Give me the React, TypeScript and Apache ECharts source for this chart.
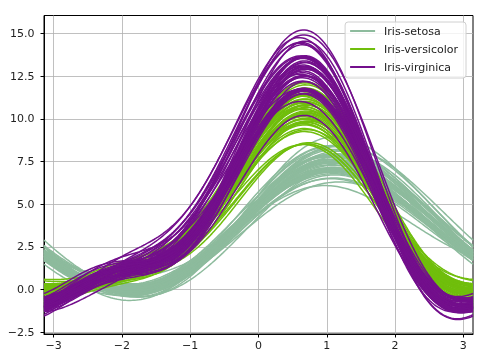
import React, { useEffect, useRef } from "react";
import * as echarts from "echarts";

// Iris data: sepal length, sepal width, petal length, petal width
const setosa: number[][] = [
  [5.1,3.5,1.4,0.2],[4.9,3.0,1.4,0.2],[4.7,3.2,1.3,0.2],[4.6,3.1,1.5,0.2],[5.0,3.6,1.4,0.2],
  [5.4,3.9,1.7,0.4],[4.6,3.4,1.4,0.3],[5.0,3.4,1.5,0.2],[4.4,2.9,1.4,0.2],[4.9,3.1,1.5,0.1],
  [5.4,3.7,1.5,0.2],[4.8,3.4,1.6,0.2],[4.8,3.0,1.4,0.1],[4.3,3.0,1.1,0.1],[5.8,4.0,1.2,0.2],
  [5.7,4.4,1.5,0.4],[5.4,3.9,1.3,0.4],[5.1,3.5,1.4,0.3],[5.7,3.8,1.7,0.3],[5.1,3.8,1.5,0.3],
  [5.4,3.4,1.7,0.2],[5.1,3.7,1.5,0.4],[4.6,3.6,1.0,0.2],[5.1,3.3,1.7,0.5],[4.8,3.4,1.9,0.2],
  [5.0,3.0,1.6,0.2],[5.0,3.4,1.6,0.4],[5.2,3.5,1.5,0.2],[5.2,3.4,1.4,0.2],[4.7,3.2,1.6,0.2],
  [4.8,3.1,1.6,0.2],[5.4,3.4,1.5,0.4],[5.2,4.1,1.5,0.1],[5.5,4.2,1.4,0.2],[4.9,3.1,1.5,0.1],
  [5.0,3.2,1.2,0.2],[5.5,3.5,1.3,0.2],[4.9,3.1,1.5,0.1],[4.4,3.0,1.3,0.2],[5.1,3.4,1.5,0.2],
  [5.0,3.5,1.3,0.3],[4.5,2.3,1.3,0.3],[4.4,3.2,1.3,0.2],[5.0,3.5,1.6,0.6],[5.1,3.8,1.9,0.4],
  [4.8,3.0,1.4,0.3],[5.1,3.8,1.6,0.2],[4.6,3.2,1.4,0.2],[5.3,3.7,1.5,0.2],[5.0,3.3,1.4,0.2],
];
const versicolor: number[][] = [
  [7.0,3.2,4.7,1.4],[6.4,3.2,4.5,1.5],[6.9,3.1,4.9,1.5],[5.5,2.3,4.0,1.3],[6.5,2.8,4.6,1.5],
  [5.7,2.8,4.5,1.3],[6.3,3.3,4.7,1.6],[4.9,2.4,3.3,1.0],[6.6,2.9,4.6,1.3],[5.2,2.7,3.9,1.4],
  [5.0,2.0,3.5,1.0],[5.9,3.0,4.2,1.5],[6.0,2.2,4.0,1.0],[6.1,2.9,4.7,1.4],[5.6,2.9,3.6,1.3],
  [6.7,3.1,4.4,1.4],[5.6,3.0,4.5,1.5],[5.8,2.7,4.1,1.0],[6.2,2.2,4.5,1.5],[5.6,2.5,3.9,1.1],
  [5.9,3.2,4.8,1.8],[6.1,2.8,4.0,1.3],[6.3,2.5,4.9,1.5],[6.1,2.8,4.7,1.2],[6.4,2.9,4.3,1.3],
  [6.6,3.0,4.4,1.4],[6.8,2.8,4.8,1.4],[6.7,3.0,5.0,1.7],[6.0,2.9,4.5,1.5],[5.7,2.6,3.5,1.0],
  [5.5,2.4,3.8,1.1],[5.5,2.4,3.7,1.0],[5.8,2.7,3.9,1.2],[6.0,2.7,5.1,1.6],[5.4,3.0,4.5,1.5],
  [6.0,3.4,4.5,1.6],[6.7,3.1,4.7,1.5],[6.3,2.3,4.4,1.3],[5.6,3.0,4.1,1.3],[5.5,2.5,4.0,1.3],
  [5.5,2.6,4.4,1.2],[6.1,3.0,4.6,1.4],[5.8,2.6,4.0,1.2],[5.0,2.3,3.3,1.0],[5.6,2.7,4.2,1.3],
  [5.7,3.0,4.2,1.2],[5.7,2.9,4.2,1.3],[6.2,2.9,4.3,1.3],[5.1,2.5,3.0,1.1],[5.7,2.8,4.1,1.3],
];
const virginica: number[][] = [
  [6.3,3.3,6.0,2.5],[5.8,2.7,5.1,1.9],[7.1,3.0,5.9,2.1],[6.3,2.9,5.6,1.8],[6.5,3.0,5.8,2.2],
  [7.6,3.0,6.6,2.1],[4.9,2.5,4.5,1.7],[7.3,2.9,6.3,1.8],[6.7,2.5,5.8,1.8],[7.2,3.6,6.1,2.5],
  [6.5,3.2,5.1,2.0],[6.4,2.7,5.3,1.9],[6.8,3.0,5.5,2.1],[5.7,2.5,5.0,2.0],[5.8,2.8,5.1,2.4],
  [6.4,3.2,5.3,2.3],[6.5,3.0,5.5,1.8],[7.7,3.8,6.7,2.2],[7.7,2.6,6.9,2.3],[6.0,2.2,5.0,1.5],
  [6.9,3.2,5.7,2.3],[5.6,2.8,4.9,2.0],[7.7,2.8,6.7,2.0],[6.3,2.7,4.9,1.8],[6.7,3.3,5.7,2.1],
  [7.2,3.2,6.0,1.8],[6.2,2.8,4.8,1.8],[6.1,3.0,4.9,1.8],[6.4,2.8,5.6,2.1],[7.2,3.0,5.8,1.6],
  [7.4,2.8,6.1,1.9],[7.9,3.8,6.4,2.0],[6.4,2.8,5.6,2.2],[6.3,2.8,5.1,1.5],[6.1,2.6,5.6,1.4],
  [7.7,3.0,6.1,2.3],[6.3,3.4,5.6,2.4],[6.4,3.1,5.5,1.8],[6.0,3.0,4.8,1.8],[6.9,3.1,5.4,2.1],
  [6.7,3.1,5.6,2.4],[6.9,3.1,5.1,2.3],[5.8,2.7,5.1,1.9],[6.8,3.2,5.9,2.3],[6.7,3.3,5.7,2.5],
  [6.7,3.0,5.2,2.3],[6.3,2.5,5.0,1.9],[6.5,3.0,5.2,2.0],[6.2,3.4,5.4,2.3],[5.9,3.0,5.1,1.8],
];

const classNames = ["Iris-setosa", "Iris-versicolor", "Iris-virginica"];
const classData = [setosa, versicolor, virginica];
const classColors = ["#8dbb9d", "#70be0c", "#730f8c"];
const xTicks = [-3, -2, -1, 0, 1, 2, 3];
const yTicks = [-2.5, 0, 2.5, 5, 7.5, 10, 12.5, 15];
const SAMPLES = 200;

// Andrews curve: f(t) = x1/sqrt(2) + x2 sin t + x3 cos t + x4 sin 2t
function andrews(row: number[], t: number): number {
  return row[0] / Math.SQRT2 + row[1] * Math.sin(t) + row[2] * Math.cos(t) + row[3] * Math.sin(2 * t);
}

const minus = (s: string) => s.replace("-", "\u2212");

export default function App() {
  const ref = useRef<HTMLDivElement>(null);
  useEffect(() => {
    if (!ref.current) return;
    const chart = echarts.init(ref.current, undefined, { renderer: "svg" });
    const ts: number[] = [];
    for (let i = 0; i < SAMPLES; i++) ts.push(-Math.PI + (2 * Math.PI * i) / (SAMPLES - 1));
    let ymin = Infinity, ymax = -Infinity;
    const series: any[] = [];
    classData.forEach((rows, ci) => {
      rows.forEach((row) => {
        const data = ts.map((t) => {
          const y = andrews(row, t);
          if (y < ymin) ymin = y;
          if (y > ymax) ymax = y;
          return [t, y];
        });
        series.push({
          type: "line",
          name: classNames[ci],
          data,
          symbol: "none",
          showSymbol: false,
          silent: true,
          lineStyle: { color: classColors[ci], width: 1.5 },
          itemStyle: { color: classColors[ci] },
        });
      });
    });
    const pad = (ymax - ymin) * 0.05;
    const font = "DejaVu Sans";
    chart.setOption({
      animation: false,
      grid: {
        left: 44, right: 22, top: 15.5, bottom: 30,
        show: true, borderColor: "#000", borderWidth: 1, backgroundColor: "#fff",
      },
      legend: {
        data: classNames.map((n, i) => ({
          name: n,
          icon: "rect",
          itemStyle: { color: classColors[i], borderWidth: 0 },
        })),
        orient: "vertical",
        right: 29,
        top: 22,
        padding: [3, 8, 5, 5],
        itemGap: 6,
        itemWidth: 25,
        itemHeight: 2,
        backgroundColor: "rgba(255,255,255,0.8)",
        borderColor: "#d0d0d0",
        borderWidth: 1,
        borderRadius: 3,
        selectedMode: false,
        textStyle: { fontFamily: font, fontSize: 11, lineHeight: 12, color: "#222", padding: [0, 0, 0, 4] },
      },
      xAxis: {
        type: "value",
        min: -Math.PI,
        max: Math.PI,
        axisLine: { show: true, onZero: false, lineStyle: { color: "#000", width: 1 } },
        axisTick: { show: true, length: 3.5, customValues: xTicks, lineStyle: { color: "#000" } },
        axisLabel: {
          customValues: xTicks,
          margin: 6,
          fontFamily: font,
          fontSize: 11,
          color: "#222",
          formatter: (v: number) => minus(String(Math.round(v))),
        },
        splitLine: { show: true, lineStyle: { color: "#b0b0b0", width: 0.8 } },
      },
      yAxis: {
        type: "value",
        min: ymin - pad,
        max: ymax + pad,
        axisLine: { show: true, onZero: false, lineStyle: { color: "#000", width: 1 } },
        axisTick: { show: true, length: 3.5, customValues: yTicks, lineStyle: { color: "#000" } },
        axisLabel: {
          customValues: yTicks,
          margin: 9.5,
          fontFamily: font,
          fontSize: 11,
          color: "#222",
          formatter: (v: number) => minus(v.toFixed(1)),
        },
        splitLine: { show: true, lineStyle: { color: "#b0b0b0", width: 0.8 } },
      },
      series,
    });
    return () => chart.dispose();
  }, []);
  return <div ref={ref} style={{ position: "fixed", left: 0, top: 0, width: 495, height: 364 }} />;
}
